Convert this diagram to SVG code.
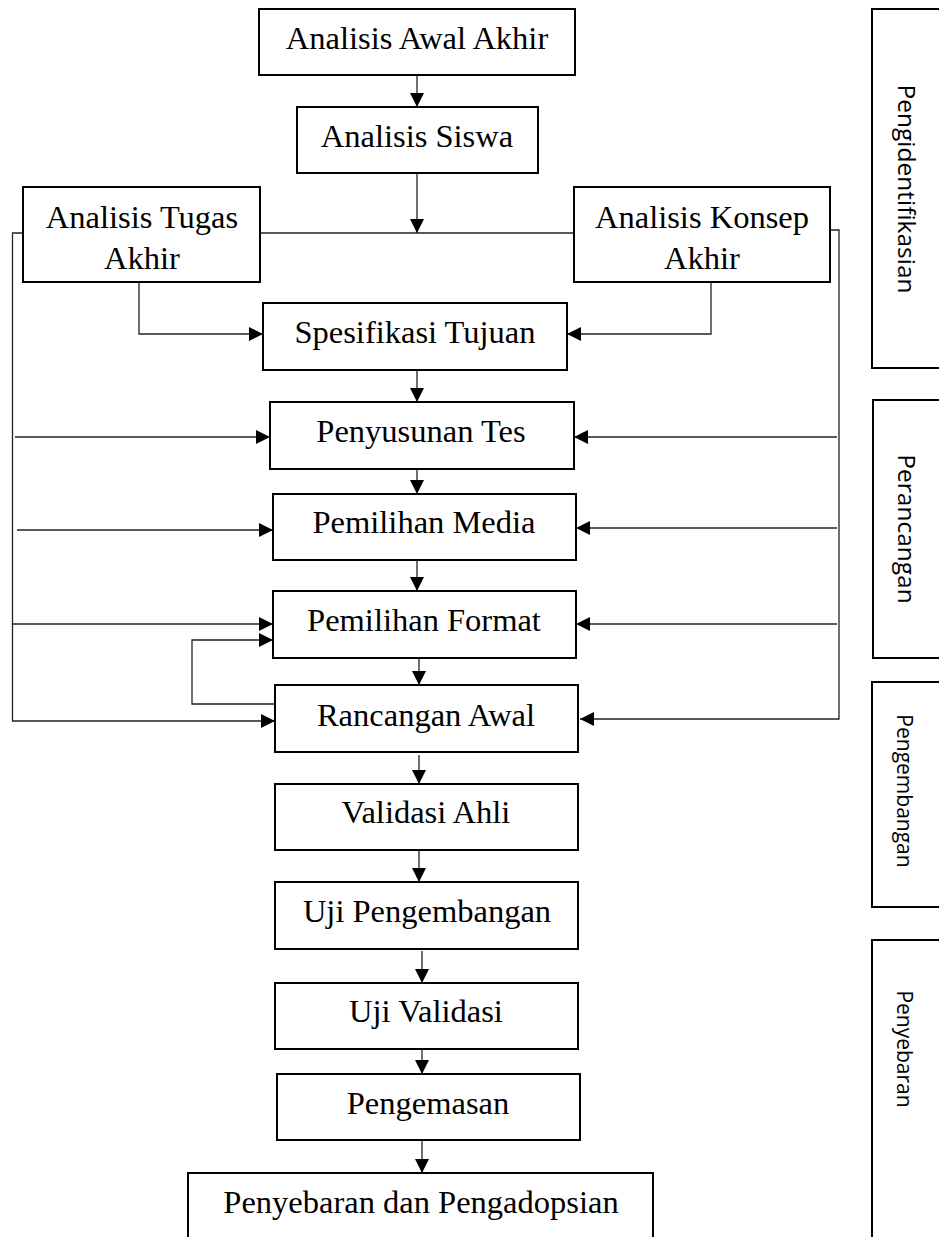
<svg xmlns="http://www.w3.org/2000/svg" width="939" height="1237" viewBox="0 0 939 1237">
  <style>
    .box { fill: #fff; stroke: #000; stroke-width: 2; }
    .phase { fill: none; stroke: #000; stroke-width: 2; }
    .lbl { font-family: "Liberation Serif", "Times New Roman", serif; font-size: 32.5px; fill: #000; text-anchor: middle; }
    .plbl { font-family: "Open Sans", "Noto Sans", sans-serif; fill: #000; text-anchor: middle; }
    .wire { fill: none; stroke: #222; stroke-width: 1.3; }
  </style>
  <defs>
    <marker id="arrow" markerUnits="userSpaceOnUse" markerWidth="15" markerHeight="14" viewBox="0 0 15 14" refX="14" refY="7" orient="auto">
      <path d="M0,0 L14,7 L0,14 z" fill="#000"/>
    </marker>
  </defs>

  <!-- connectors -->
  <g id="connectors">
    <line class="wire" x1="417" y1="75" x2="417" y2="107" marker-end="url(#arrow)"/>
    <line class="wire" x1="417" y1="173" x2="417" y2="233" marker-end="url(#arrow)"/>
    <line class="wire" x1="260" y1="233" x2="574" y2="233"/>
    <polyline class="wire" points="139,282 139,334 263,334" marker-end="url(#arrow)"/>
    <polyline class="wire" points="711,282 711,334 567,334" marker-end="url(#arrow)"/>
    <line class="wire" x1="417" y1="370" x2="417" y2="402" marker-end="url(#arrow)"/>
    <line class="wire" x1="417" y1="469" x2="417" y2="494" marker-end="url(#arrow)"/>
    <line class="wire" x1="417" y1="560" x2="417" y2="591" marker-end="url(#arrow)"/>
    <line class="wire" x1="419" y1="659" x2="419" y2="685" marker-end="url(#arrow)"/>
    <line class="wire" x1="419" y1="755" x2="419" y2="784" marker-end="url(#arrow)"/>
    <line class="wire" x1="419" y1="850" x2="419" y2="882" marker-end="url(#arrow)"/>
    <line class="wire" x1="422" y1="951" x2="422" y2="983" marker-end="url(#arrow)"/>
    <line class="wire" x1="422" y1="1047" x2="422" y2="1074" marker-end="url(#arrow)"/>
    <line class="wire" x1="422" y1="1140" x2="422" y2="1173" marker-end="url(#arrow)"/>

    <!-- left feed line -->
    <polyline class="wire" points="23,233 12.5,233 12.5,721 275,721" marker-end="url(#arrow)"/>
    <line class="wire" x1="15" y1="437" x2="270" y2="437" marker-end="url(#arrow)"/>
    <line class="wire" x1="17" y1="530" x2="273" y2="530" marker-end="url(#arrow)"/>
    <line class="wire" x1="12.5" y1="624" x2="273" y2="624" marker-end="url(#arrow)"/>
    <polyline class="wire" points="275,704 192,704 192,640 273,640" marker-end="url(#arrow)"/>

    <!-- right feed line -->
    <polyline class="wire" points="830,230 839,230 839,719 580,719" marker-end="url(#arrow)"/>
    <line class="wire" x1="837" y1="437" x2="574" y2="437" marker-end="url(#arrow)"/>
    <line class="wire" x1="837" y1="528" x2="576" y2="528" marker-end="url(#arrow)"/>
    <line class="wire" x1="837" y1="624" x2="576" y2="624" marker-end="url(#arrow)"/>
  </g>

  <!-- process steps -->
  <g id="analisis-awal-akhir">
    <rect class="box" x="259" y="9" width="316" height="66"/>
    <text class="lbl" x="417" y="49">Analisis Awal Akhir</text>
  </g>
  <g id="analisis-siswa">
    <rect class="box" x="297" y="107" width="241" height="66"/>
    <text class="lbl" x="417" y="147">Analisis Siswa</text>
  </g>
  <g id="analisis-tugas">
    <rect class="box" x="23" y="187" width="237" height="95"/>
    <text class="lbl" x="142" y="228">Analisis Tugas</text>
    <text class="lbl" x="142" y="269">Akhir</text>
  </g>
  <g id="analisis-konsep">
    <rect class="box" x="574" y="187" width="256" height="95"/>
    <text class="lbl" x="702" y="228">Analisis Konsep</text>
    <text class="lbl" x="702" y="269">Akhir</text>
  </g>
  <g id="spesifikasi-tujuan">
    <rect class="box" x="263" y="303" width="304" height="67"/>
    <text class="lbl" x="415" y="343">Spesifikasi Tujuan</text>
  </g>
  <g id="penyusunan-tes">
    <rect class="box" x="270" y="402" width="304" height="67"/>
    <text class="lbl" x="421" y="442">Penyusunan Tes</text>
  </g>
  <g id="pemilihan-media">
    <rect class="box" x="273" y="494" width="303" height="66"/>
    <text class="lbl" x="424" y="533">Pemilihan Media</text>
  </g>
  <g id="pemilihan-format">
    <rect class="box" x="273" y="591" width="303" height="67"/>
    <text class="lbl" x="424" y="631">Pemilihan Format</text>
  </g>
  <g id="rancangan-awal">
    <rect class="box" x="275" y="685" width="303" height="67"/>
    <text class="lbl" x="426" y="726">Rancangan Awal</text>
  </g>
  <g id="validasi-ahli">
    <rect class="box" x="275" y="784" width="303" height="66"/>
    <text class="lbl" x="426" y="823">Validasi Ahli</text>
  </g>
  <g id="uji-pengembangan">
    <rect class="box" x="275" y="882" width="303" height="67"/>
    <text class="lbl" x="427" y="922">Uji Pengembangan</text>
  </g>
  <g id="uji-validasi">
    <rect class="box" x="275" y="983" width="303" height="66"/>
    <text class="lbl" x="426" y="1022">Uji Validasi</text>
  </g>
  <g id="pengemasan">
    <rect class="box" x="277" y="1074" width="303" height="66"/>
    <text class="lbl" x="428" y="1114">Pengemasan</text>
  </g>
  <g id="penyebaran-pengadopsian">
    <rect class="box" x="188" y="1173" width="465" height="80"/>
    <text class="lbl" x="421" y="1213">Penyebaran dan Pengadopsian</text>
  </g>

  <!-- phase brackets -->
  <g id="phase-pengidentifikasian">
    <rect class="phase" x="872" y="9" width="90" height="359"/>
    <text class="plbl" font-size="24.5" transform="translate(898,189) rotate(90)">Pengidentifikasian</text>
  </g>
  <g id="phase-perancangan">
    <rect class="phase" x="873" y="400" width="90" height="258"/>
    <text class="plbl" font-size="24.5" transform="translate(898,529) rotate(90)">Perancangan</text>
  </g>
  <g id="phase-pengembangan">
    <rect class="phase" x="872" y="682" width="90" height="225"/>
    <text class="plbl" font-size="21" transform="translate(897,791) rotate(90)">Pengembangan</text>
  </g>
  <g id="phase-penyebaran">
    <rect class="phase" x="872" y="940" width="90" height="320"/>
    <text class="plbl" font-size="21" transform="translate(897,1049) rotate(90)">Penyebaran</text>
  </g>
</svg>
